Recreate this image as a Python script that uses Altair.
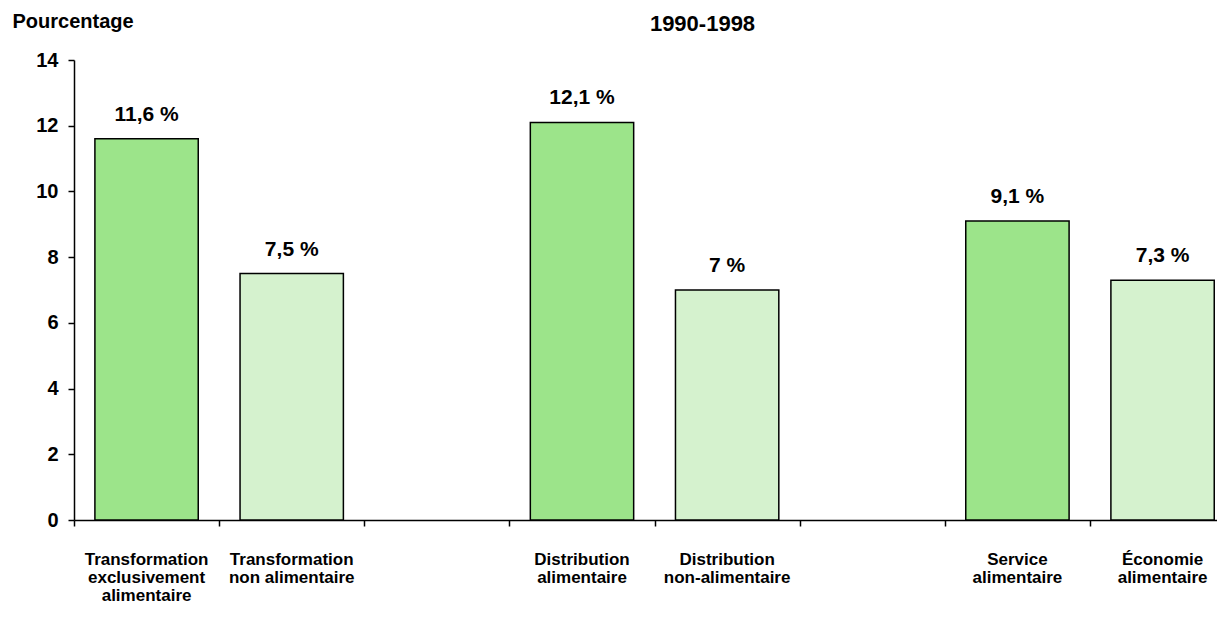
import altair as alt
import pandas as pd

# x-axis categories (slot positions 2 and 5 are empty gaps)
categories = [
    "Transformation|exclusivement|alimentaire",
    "Transformation|non alimentaire",
    "Distribution|alimentaire",
    "Distribution|non-alimentaire",
    "Service|alimentaire",
    "Économie|alimentaire",
]
slot = [0, 1, 3, 4, 6, 7]
values = [11.6, 7.5, 12.1, 7.0, 9.1, 7.3]
value_labels = ["11,6 %", "7,5 %", "12,1 %", "7 %", "9,1 %", "7,3 %"]
shades = ["alimentaire", "autre", "alimentaire", "autre", "alimentaire", "autre"]
y_ticks = [0, 2, 4, 6, 8, 10, 12, 14]
x_ticks = [0, 1, 2, 3, 4, 5, 6, 7]

df = pd.DataFrame({
    "cat": categories,
    "slot": slot,
    "val": values,
    "lab": value_labels,
    "shade": shades,
})

FONT = "Liberation Sans"

xscale = alt.Scale(domain=[0, 7.875], nice=False, zero=False)
yscale = alt.Scale(domain=[0, 14], nice=False)

base = alt.Chart(df).transform_calculate(
    x0="datum.slot + 0.144",
    x1="datum.slot + 0.856",
    xm="datum.slot + 0.5",
)

bars = base.mark_bar(stroke="black", strokeWidth=1.5).encode(
    x=alt.X(
        "x0:Q",
        scale=xscale,
        axis=alt.Axis(
            title=None,
            values=x_ticks,
            labels=False,
            grid=False,
            tickSize=6,
            tickColor="black",
            tickWidth=1.5,
            domainColor="black",
            domainWidth=1.5,
        ),
    ),
    x2="x1:Q",
    y=alt.Y(
        "val:Q",
        scale=yscale,
        axis=alt.Axis(
            title="Pourcentage",
            titleAngle=0,
            titleX=-62,
            titleY=-33,
            titleAlign="left",
            titleBaseline="alphabetic",
            titleFont=FONT,
            titleFontSize=20,
            titleFontWeight="bold",
            titleColor="black",
            values=y_ticks,
            grid=False,
            labelFont=FONT,
            labelFontSize=20,
            labelFontWeight="bold",
            labelColor="black",
            labelPadding=10,
            tickSize=6,
            tickColor="black",
            tickWidth=1.5,
            domainColor="black",
            domainWidth=1.5,
        ),
    ),
    y2=alt.datum(0),
    color=alt.Color(
        "shade:N",
        scale=alt.Scale(domain=["alimentaire", "autre"], range=["#9CE48A", "#D5F2CE"]),
        legend=None,
    ),
)

value_text = base.mark_text(
    font=FONT, fontSize=21, fontWeight="bold", color="black", baseline="alphabetic", dy=-18
).encode(
    x=alt.X("xm:Q", scale=xscale),
    y=alt.Y("val:Q", scale=yscale),
    text="lab:N",
)

cat_text = base.mark_text(
    font=FONT, fontSize=17, fontWeight="bold", color="black", baseline="top",
    lineBreak="|", lineHeight=18, align="center",
).encode(
    x=alt.X("xm:Q", scale=xscale),
    y=alt.value(492),
    text="cat:N",
)

chart = (
    alt.layer(bars, value_text, cat_text)
    .properties(
        width=1143,
        height=460,
        autosize=alt.AutoSizeParams(type="none"),
        padding={"left": 66, "top": 52, "right": 0, "bottom": 88},
        title=alt.Title(
            "1990-1998",
            font=FONT,
            fontSize=22,
            fontWeight="bold",
            color="black",
            anchor="middle",
            dx=57,
            dy=25,
            offset=0,
        ),
    )
    .configure(background="white")
    .configure_view(stroke="transparent")
)

chart.save("out.html", embed_options={"renderer": "svg", "actions": False})
